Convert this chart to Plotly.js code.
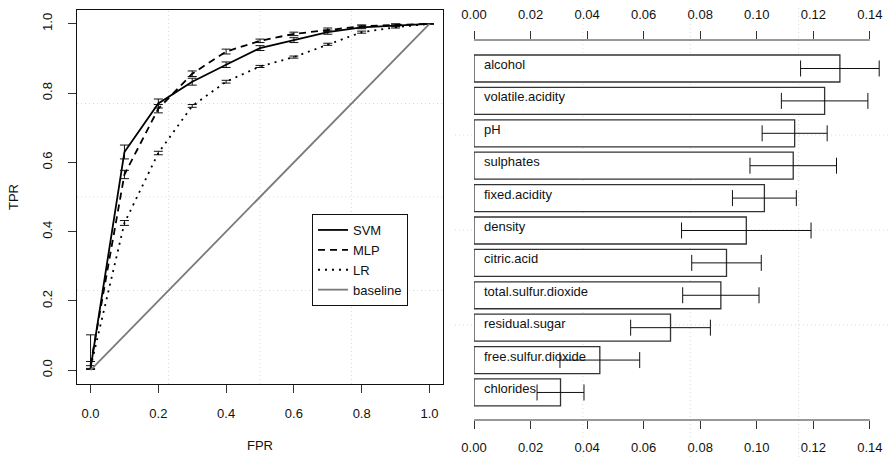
<!DOCTYPE html>
<html>
<head>
<meta charset="utf-8">
<script src="https://cdn.plot.ly/plotly-3.0.1.min.js"></script>
<style>html,body{margin:0;padding:0;background:#fff;}#chart{width:888px;height:457px;}</style>
</head>
<body>
<div id="chart"></div>
<script>
// ROC curves (left panel)
const fpr = [0.0, 0.1, 0.2, 0.3, 0.4, 0.5, 0.6, 0.7, 0.8, 0.9, 1.0];
const svmTPR = [0.005, 0.630, 0.770, 0.833, 0.882, 0.930, 0.953, 0.976, 0.990, 0.996, 1.0];
const svmErrPlus = [0.097, 0.020, 0.013, 0.010, 0.008, 0.007, 0.007, 0.006, 0.004, 0.003, 0.0];
const svmErrMinus = [0.003, 0.020, 0.013, 0.010, 0.008, 0.007, 0.007, 0.006, 0.004, 0.003, 0.0];
const mlpTPR = [0.015, 0.565, 0.755, 0.856, 0.920, 0.951, 0.971, 0.983, 0.993, 0.997, 1.0];
const mlpErr = [0.010, 0.012, 0.012, 0.008, 0.007, 0.005, 0.005, 0.005, 0.004, 0.003, 0.0];
const lrTPR = [0.008, 0.425, 0.627, 0.763, 0.833, 0.877, 0.904, 0.941, 0.976, 0.990, 1.0];
const lrErr = [0.005, 0.007, 0.005, 0.004, 0.004, 0.003, 0.003, 0.003, 0.003, 0.002, 0.0];
const baseX = [0, 1];
const baseY = [0, 1];

// Variable importance (right panel), bottom to top
const features = ["chlorides", "free.sulfur.dioxide", "residual.sugar", "total.sulfur.dioxide",
  "citric.acid", "density", "fixed.acidity", "sulphates", "pH", "volatile.acidity", "alcohol"];
const importance = [0.0306, 0.0445, 0.0695, 0.0873, 0.0893, 0.0963, 0.1027, 0.1129, 0.1134, 0.1240, 0.1294];
const importanceErr = [0.0083, 0.0141, 0.0141, 0.0135, 0.0123, 0.0229, 0.0113, 0.0153, 0.0115, 0.0153, 0.0139];
const impTicks = [0.00, 0.02, 0.04, 0.06, 0.08, 0.10, 0.12, 0.14];
const rocTicks = [0.0, 0.2, 0.4, 0.6, 0.8, 1.0];

const FONT = "Liberation Sans, Arial, Helvetica, sans-serif";
const W = 888, H = 457;
const px = v => v / W;
const py = v => 1 - v / H;

const errStyle = {color: "#111", thickness: 1, width: 4.5};

const traces = [
  {x: fpr, y: svmTPR, type: "scatter", mode: "lines", name: "SVM", xaxis: "x", yaxis: "y",
   line: {color: "#000", width: 1.8, dash: "solid"},
   error_y: Object.assign({type: "data", symmetric: false, array: svmErrPlus, arrayminus: svmErrMinus}, errStyle)},
  {x: fpr, y: mlpTPR, type: "scatter", mode: "lines", name: "MLP", xaxis: "x", yaxis: "y",
   line: {color: "#000", width: 1.8, dash: "7px,5px"},
   error_y: Object.assign({type: "data", array: mlpErr}, errStyle)},
  {x: fpr, y: lrTPR, type: "scatter", mode: "lines", name: "LR", xaxis: "x", yaxis: "y",
   line: {color: "#000", width: 1.8, dash: "2px,5px"},
   error_y: Object.assign({type: "data", array: lrErr}, errStyle)},
  {x: baseX, y: baseY, type: "scatter", mode: "lines", name: "baseline", xaxis: "x", yaxis: "y",
   line: {color: "#7a7a7a", width: 1.8}},
  {x: importance, y: features, type: "bar", orientation: "h", xaxis: "x2", yaxis: "y2",
   showlegend: false, width: 0.833, hoverinfo: "x+y",
   marker: {color: "#fff", line: {color: "#333", width: 1.3}},
   error_x: {type: "data", array: importanceErr, color: "#111", thickness: 1, width: 8}},
  // invisible trace to drive the top axis
  {x: importance, y: features, type: "scatter", mode: "markers", xaxis: "x3", yaxis: "y2",
   showlegend: false, hoverinfo: "skip", marker: {opacity: 0}}
];

const shapes = [];
const gridStyle = {color: "#d9d9d9", width: 1, dash: "1px,3px"};
[0.25, 0.5, 0.75].forEach(f => {
  shapes.push({type: "line", xref: "x domain", yref: "y domain", x0: f, x1: f, y0: 0, y1: 1, line: gridStyle, layer: "below"});
  shapes.push({type: "line", xref: "x domain", yref: "y domain", x0: 0, x1: 1, y0: f, y1: f, line: gridStyle, layer: "below"});
  shapes.push({type: "line", xref: "paper", yref: "y2 domain", x0: px(455), x1: 1, y0: f, y1: f, line: gridStyle, layer: "below"});
});
[0.0385, 0.0765, 0.1148].forEach(v => {
  shapes.push({type: "line", xref: "x2", yref: "paper", x0: v, x1: v, y0: 0, y1: py(5), line: gridStyle, layer: "below"});
});
// right-panel axis lines spanning the tick range only
shapes.push({type: "line", xref: "x2", yref: "y2 domain", x0: impTicks[0], x1: impTicks[impTicks.length - 1], y0: 0, y1: 0, line: {color: "#333", width: 1}});
shapes.push({type: "line", xref: "x2", yref: "y2 domain", x0: impTicks[0], x1: impTicks[impTicks.length - 1], y0: 1, y1: 1, line: {color: "#333", width: 1}});

const annotations = features.map(f => ({
  x: 0, y: f, xref: "x2", yref: "y2", text: f, showarrow: false,
  xanchor: "left", yanchor: "middle", xshift: 8, yshift: 4,
  font: {family: FONT, size: 13, color: "#111"}
}));
annotations.push({text: "FPR", x: px(260), y: py(445), xref: "paper", yref: "paper", showarrow: false,
  xanchor: "center", yanchor: "middle", font: {family: FONT, size: 13, color: "#111"}});
annotations.push({text: "TPR", x: px(14), y: py(197), xref: "paper", yref: "paper", showarrow: false,
  textangle: -90, xanchor: "center", yanchor: "middle", font: {family: FONT, size: 13, color: "#111"}});

const tickFont = {family: FONT, size: 13, color: "#111"};

const layout = {
  width: W, height: H,
  margin: {l: 0, r: 0, t: 0, b: 0},
  paper_bgcolor: "#fff", plot_bgcolor: "rgba(0,0,0,0)",
  font: {family: FONT, size: 13, color: "#111"},
  showlegend: true,
  legend: {x: px(312), y: py(214), xanchor: "left", yanchor: "top",
    bordercolor: "#111", borderwidth: 1, bgcolor: "#fff",
    font: {family: FONT, size: 13, color: "#111"}, tracegroupgap: 0, itemwidth: 30},
  xaxis: {domain: [px(77), px(443)], range: [-0.04, 1.04], anchor: "y",
    tickvals: rocTicks, tickformat: ".1f", ticks: "outside", ticklen: 8, tickcolor: "#333",
    showline: true, mirror: true, linecolor: "#111", linewidth: 1.2, showgrid: false, zeroline: false,
    tickfont: tickFont, ticklabelstandoff: 9},
  yaxis: {domain: [py(384), py(10)], range: [-0.04, 1.04], anchor: "x",
    tickvals: rocTicks, tickformat: ".1f", ticks: "outside", ticklen: 8, tickcolor: "#333", tickangle: -90,
    showline: true, mirror: true, linecolor: "#111", linewidth: 1.2, showgrid: false, zeroline: false,
    tickfont: tickFont, ticklabelstandoff: 11},
  xaxis2: {domain: [px(474), px(884)], range: [0, 0.145], anchor: "y2",
    tickvals: impTicks, tickformat: ".2f", ticks: "outside", ticklen: 8, tickcolor: "#333",
    showline: false, showgrid: false, zeroline: false, tickfont: tickFont, ticklabelstandoff: 7},
  xaxis3: {matches: "x2", overlaying: "x2", side: "top", anchor: "y2",
    tickvals: impTicks, tickformat: ".2f", ticks: "outside", ticklen: 8, tickcolor: "#333",
    showline: false, showgrid: false, zeroline: false, tickfont: tickFont, ticklabelstandoff: 7},
  yaxis2: {domain: [py(420), py(40)], range: [-0.85, 10.88], anchor: "x2", type: "category",
    categoryorder: "array", categoryarray: features,
    showticklabels: false, ticks: "", showline: false, showgrid: false, zeroline: false},
  shapes: shapes,
  annotations: annotations
};

Plotly.newPlot("chart", traces, layout, {displayModeBar: false, staticPlot: true});
</script>
</body>
</html>
